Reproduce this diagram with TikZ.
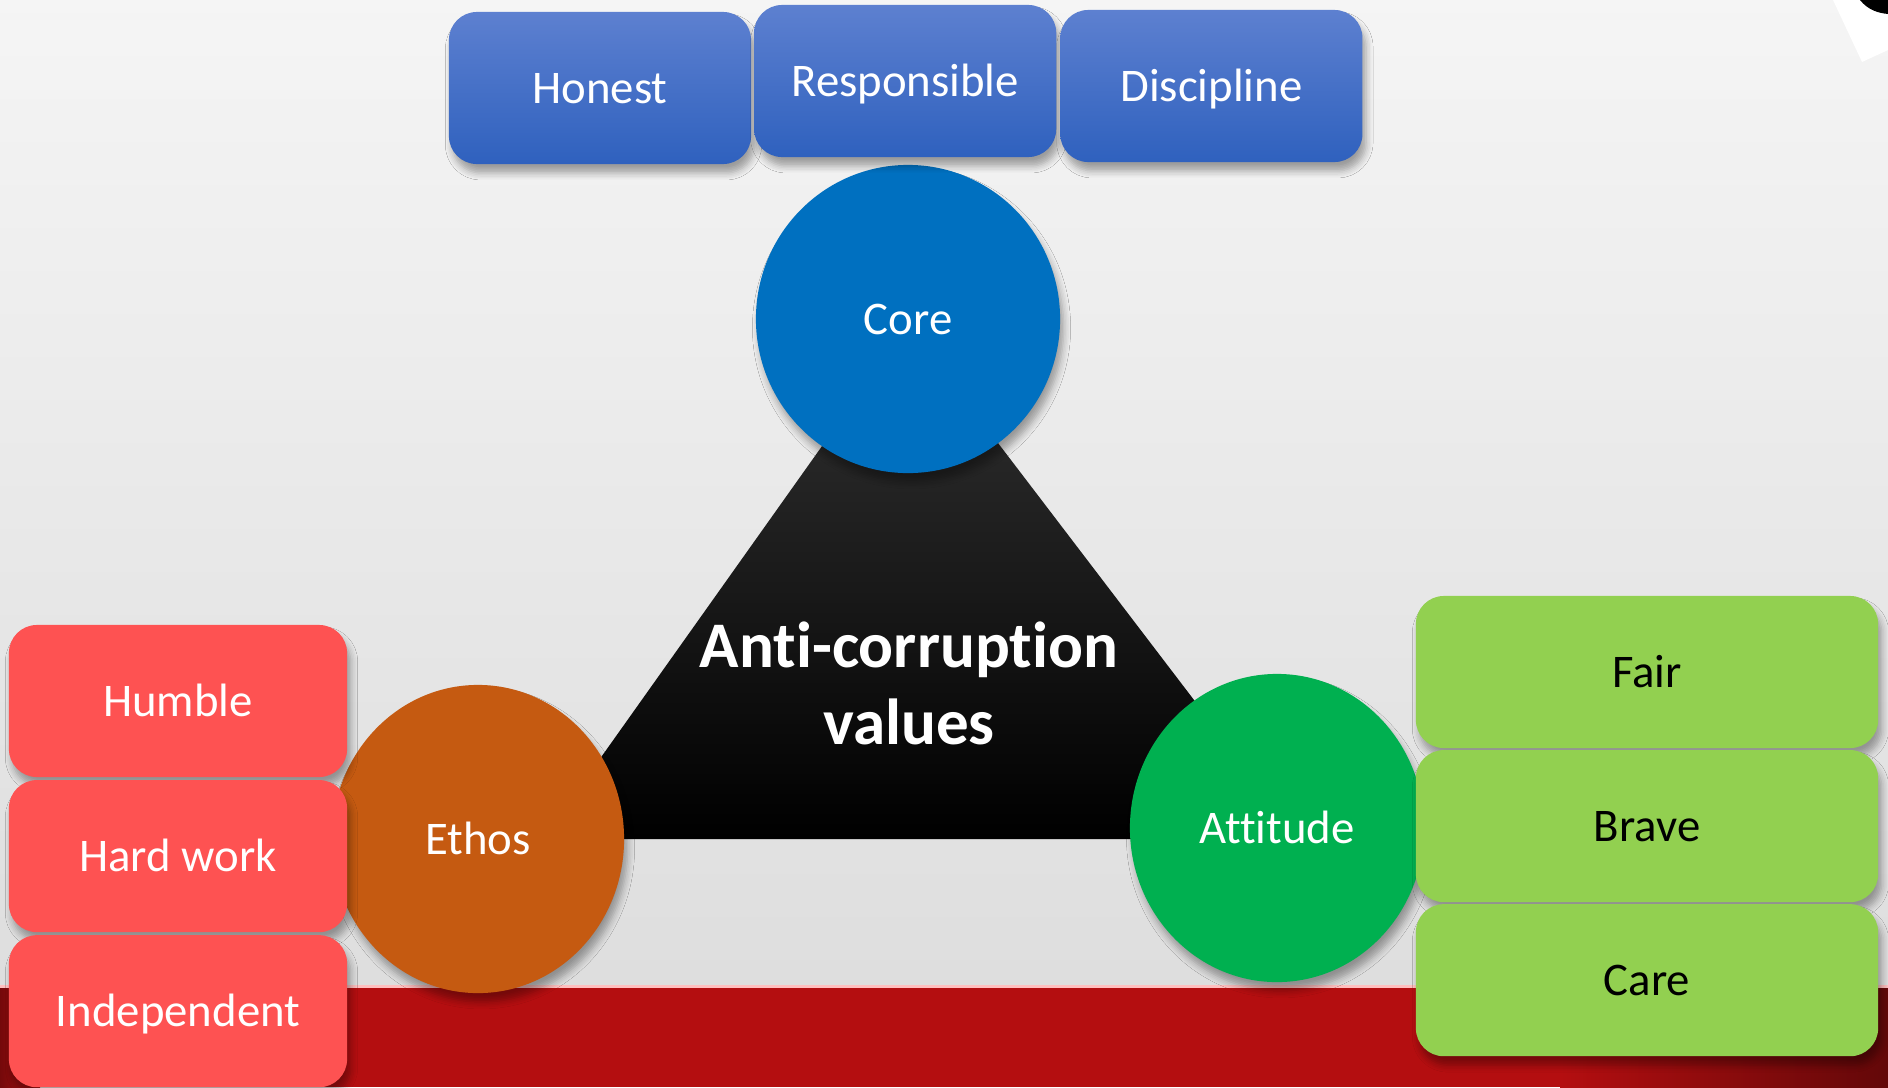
\documentclass[tikz,border=0pt]{standalone}
\usepackage{fontspec}
\setmainfont{Carlito}[Ligatures={NoCommon}]
\usetikzlibrary{positioning, shapes.geometric, shadows.blur}

\definecolor{bluetop}{RGB}{93,128,208}
\definecolor{bluebot}{RGB}{47,97,190}
\definecolor{coreblue}{RGB}{0,112,192}
\definecolor{ethosbrown}{RGB}{197,90,17}
\definecolor{attgreen}{RGB}{0,176,80}
\definecolor{redval}{RGB}{254,82,82}
\definecolor{greenval}{RGB}{146,208,80}
\definecolor{bandred}{RGB}{180,14,16}

\tikzset{
  softshadow/.style={blur shadow={shadow xshift=1pt, shadow yshift=-2.5pt, shadow opacity=35, shadow blur steps=5, shadow blur radius=2pt}},
  valbox/.style={rectangle, rounded corners=0.28cm, minimum height=1.52cm, text=white,
    font=\fontsize{13.3}{16}\selectfont, text height=8.6pt, text depth=0pt, softshadow},
  bluebox/.style={valbox, minimum width=3.02cm, top color=bluetop, bottom color=bluebot},
  redbox/.style={valbox, minimum width=3.38cm, fill=redval},
  greenbox/.style={valbox, minimum width=4.62cm, fill=greenval, text=black},
  hub/.style={ellipse, minimum height=3.08cm, text=white, font=\fontsize{13.3}{16}\selectfont,
    text height=8.6pt, text depth=0pt, softshadow}
}

\begin{document}
\begin{tikzpicture}[x=0.01cm, y=-0.01cm, node distance=1.55cm, on grid]
  \useasboundingbox (0,0) rectangle (1888,1087);
  % backdrop and red band
  \shade[top color=black!4, bottom color=black!13] (0,0) rectangle (1888,987);
  \fill[bandred] (0,987) rectangle (1888,1087);
  \shade[left color=bandred, right color=bandred!55!black] (1560,987) rectangle (1888,1087);
  \shade[left color=bandred!65!black, right color=bandred] (0,987) rectangle (40,1087);
  \draw[red!25, line width=0.03cm] (0,986) -- (1888,986);
  \fill[white] (1833,0) -- (1862,62) -- (1888,50) -- (1888,0) -- cycle;
  \fill[black] (1860,0) .. controls (1868,10) and (1878,13) .. (1888,14) -- (1888,0) -- cycle;

  % triangle
  \coordinate (apex) at (908,325);
  \coordinate (baseL) at (543,839);
  \coordinate (baseR) at (1300,839);
  \shade[top color=black!80, bottom color=black] (apex) -- (baseR) -- (baseL) -- cycle;
  \node[text=white, align=center, font=\bfseries\fontsize{18.5}{21.9}\selectfont] (values) at (909,683) {Anti-corruption\\values};

  % hubs
  \node[hub, minimum width=3.04cm, fill=coreblue] (core) at (908,319) {Core};
  \node[hub, minimum width=2.92cm, fill=ethosbrown] (ethos) at (478,839) {Ethos};
  \node[hub, minimum width=2.94cm, fill=attgreen] (attitude) at (1277,828) {Attitude};

  % core values
  \node[bluebox] (honest) at (600,88) {Honest};
  \node[bluebox, right=3.05cm of honest, yshift=0.07cm] (responsible) {Responsible};
  \node[bluebox, right=3.06cm of responsible, yshift=-0.05cm] (discipline) {Discipline};

  % ethos values
  \node[redbox] (humble) at (178,701) {Humble};
  \node[redbox, below=of humble] (hardwork) {Hard work};
  \node[redbox, below=of hardwork] (independent) {Independent};

  % attitude values
  \node[greenbox] (fair) at (1647,672) {Fair};
  \node[greenbox, below=1.54cm of fair] (brave) {Brave};
  \node[greenbox, below=1.54cm of brave] (care) {Care};
\end{tikzpicture}
\end{document}
